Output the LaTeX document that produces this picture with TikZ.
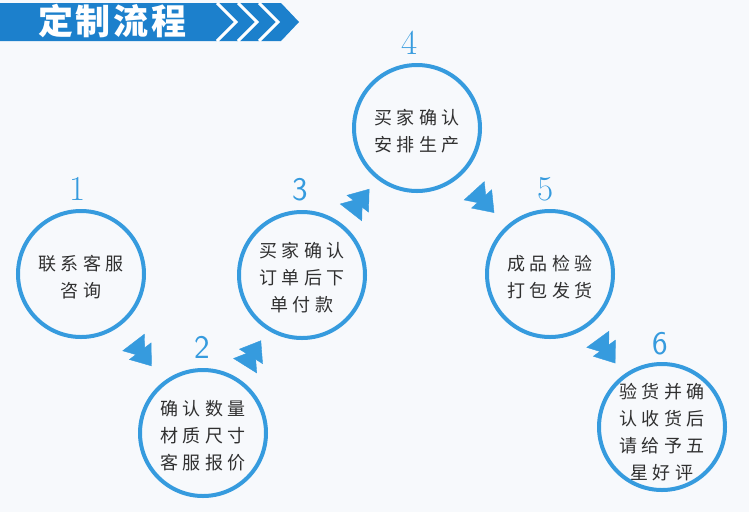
\documentclass[tikz,border=0pt]{standalone}
\usepackage{fontspec}
\usepackage{tikz}
\usetikzlibrary{arrows.meta,positioning,decorations.markings}
\newfontfamily\cjkfont[LetterSpace=25]{Noto Sans CJK SC}
\newfontfamily\titlefont[LetterSpace=8]{Noto Sans CJK SC}
\definecolor{stepblue}{RGB}{54,155,222}
\definecolor{bannerblue}{RGB}{28,128,204}
\definecolor{pagebg}{RGB}{247,249,252}
\definecolor{textgray}{RGB}{48,48,48}

\begin{document}
\begin{tikzpicture}[x=1pt,y=-1pt,
    stepcircle/.style={circle, draw=stepblue, line width=4pt, minimum size=126pt, inner sep=0pt},
    steptext/.style={align=center, text=textgray, inner sep=0pt, font=\cjkfont\fontsize{18}{27}\selectfont},
    stepnum/.style={text=stepblue, inner sep=0pt, font=\fontsize{35}{35}\selectfont},
    stepnumsf/.style={stepnum, font=\sffamily\fontsize{33}{33}\selectfont},
    flow/.style={color=stepblue, postaction={decorate},
        decoration={markings, mark=at position 0.5 with {\arrow[xshift=16pt]{Triangle[length=19pt,width=28pt]}\arrow[xshift=5pt]{Triangle[length=19pt,width=28pt]}}}}]
    \fill[pagebg] (0,0) rectangle (749,512);

    % banner
    \fill[bannerblue] (0,3) -- (281,3) -- (299,22) -- (281,41) -- (0,41) -- cycle;
    \foreach \x in {217,238,259}
        \draw[white, line width=3pt] (\x,3) -- (\x+19,22) -- (\x,41);
    \node[anchor=west, text=white, inner sep=0pt, font=\titlefont\bfseries\fontsize{35}{35}\selectfont] (title) at (38,21) {定制流程};

    % steps
    \node[stepcircle] (c1) at (81,274) {};
    \node[stepcircle] (c2) at (203,433) {};
    \node[stepcircle] (c3) at (302,275) {};
    \node[stepcircle] (c4) at (417,128) {};
    \node[stepcircle] (c5) at (550,274) {};
    \node[stepcircle] (c6) at (662,427) {};

    \node[steptext] (t1) at ([yshift=-3pt]c1.center) {联系客服\\咨询};
    \node[steptext] (t2) at ([yshift=-3pt]c2.center) {确认数量\\材质尺寸\\客服报价};
    \node[steptext] (t3) at ([yshift=-3pt]c3.center) {买家确认\\订单后下\\单付款};
    \node[steptext] (t4) at ([yshift=-3pt]c4.center) {买家确认\\安排生产};
    \node[steptext] (t5) at ([yshift=-3pt]c5.center) {成品检验\\打包发货};
    \node[steptext] (t6) at ([yshift=-5pt]c6.center) {验货并确\\认收货后\\请给予五\\星好评};

    \node[stepnum, above=8pt of c1, xshift=-3pt] (n1) {1};
    \node[stepnumsf, above=9pt of c2, xshift=-1pt] (n2) {2};
    \node[stepnumsf, above=9pt of c3, xshift=-2pt] (n3) {3};
    \node[stepnum, above=8pt of c4, xshift=-7pt] (n4) {4};
    \node[stepnum, above=8pt of c5, xshift=-4pt] (n5) {5};
    \node[stepnumsf, above=7pt of c6, xshift=-2pt] (n6) {6};

    \path[flow] (c1) -- (c2);
    \path[flow] (c2) -- (c3);
    \path[flow] (c3) -- (c4);
    \path[flow] (c4) -- (c5);
    \path[flow] (c5) -- (c6);
\end{tikzpicture}
\end{document}
